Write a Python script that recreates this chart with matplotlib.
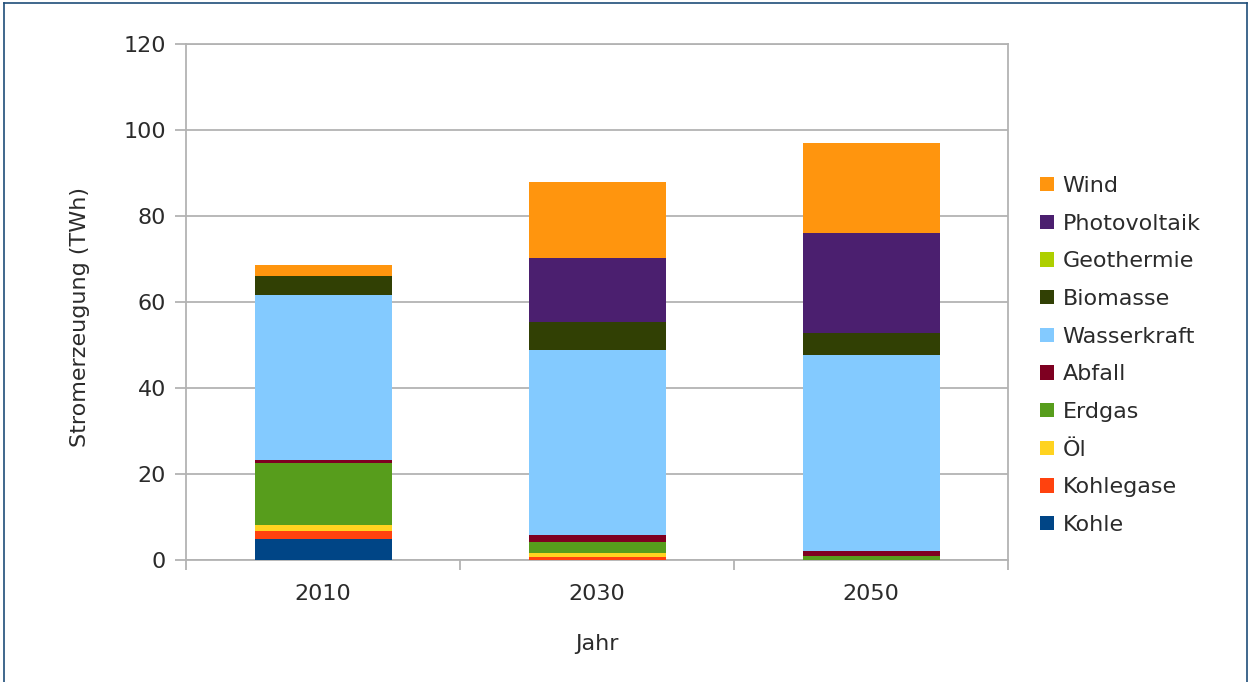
import matplotlib
matplotlib.use("Agg")
import matplotlib.pyplot as plt
from matplotlib.lines import Line2D
import numpy as np

plt.rcParams['font.family'] = ['DejaVu Sans']

years = ["2010", "2030", "2050"]
kohle = [5.0, 0.0, 0.0]
kohlegase = [1.8, 0.7, 0.0]
oel = [1.3, 0.9, 0.0]
erdgas = [14.5, 2.7, 1.0]
abfall = [0.6, 1.4, 1.2]
wasserkraft = [38.4, 43.1, 45.5]
biomasse = [4.5, 6.6, 5.1]
geothermie = [0.0, 0.0, 0.0]
photovoltaik = [0.0, 14.8, 23.2]
wind = [2.5, 17.6, 21.0]

series = [
    ("Kohle", kohle, "#004586"),
    ("Kohlegase", kohlegase, "#ff420e"),
    ("Öl", oel, "#ffd320"),
    ("Erdgas", erdgas, "#579d1c"),
    ("Abfall", abfall, "#7e0021"),
    ("Wasserkraft", wasserkraft, "#83caff"),
    ("Biomasse", biomasse, "#314004"),
    ("Geothermie", geothermie, "#aecf00"),
    ("Photovoltaik", photovoltaik, "#4b1f6f"),
    ("Wind", wind, "#ff950e"),
]

W, H = 1250, 682
fig = plt.figure(figsize=(W / 100, H / 100), dpi=100)
ax = fig.add_axes([186 / W, (H - 560) / H, (1008 - 186) / W, (560 - 44) / H])

gray = "#b3b3b3"
txt = "#2b2b2b"
fs = 16
x = np.arange(len(years))
bottom = np.zeros(len(years))
handles = []
for name, vals, col in series:
    v = np.array(vals)
    b = ax.bar(x, v, width=0.5, bottom=bottom, color=col, edgecolor="none", label=name, zorder=3)
    bottom += v
    handles.append(b)

ax.set_xlim(-0.5, 2.5)
ax.set_ylim(0, 120)
ax.set_yticks(np.arange(0, 121, 20))
ax.yaxis.grid(True, color=gray, linewidth=1.3, zorder=0)
ax.set_axisbelow(True)
for s in ax.spines.values():
    s.set_color(gray)
    s.set_linewidth(1.3)

ax.set_xticks(x)
ax.set_xticklabels(years)
ax.set_xticks([-0.5, 0.5, 1.5, 2.5], minor=True)
ax.tick_params(axis="x", which="major", length=0, pad=17, labelsize=fs, labelcolor=txt)
ax.tick_params(axis="x", which="minor", length=7.5, width=1.3, color=gray, direction="out")
ax.tick_params(axis="y", length=8, width=1.3, color=gray, pad=6.5, labelsize=fs, labelcolor=txt)

ax.set_xlabel("Jahr", fontsize=fs, color=txt, labelpad=22)
ax.set_ylabel("Stromerzeugung (TWh)", fontsize=fs, color=txt)
ax.yaxis.set_label_coords((90 - 186) / 822, (560 - 317) / 516)

leg = fig.legend(handles[::-1], [s[0] for s in series][::-1],
                 loc="upper left", bbox_to_anchor=(1040 / W, 1 - 176 / H),
                 frameon=False, fontsize=fs, handlelength=0.62, handleheight=0.62,
                 handletextpad=0.4, labelspacing=0.795, borderaxespad=0, borderpad=0)
for t in leg.get_texts():
    t.set_color(txt)

# outer border of the picture
bc = "#1f4e79"
fig.add_artist(Line2D([4 / W, 4 / W], [0, 1 - 3 / H], color=bc, lw=1.2, transform=fig.transFigure))
fig.add_artist(Line2D([4 / W, 1247 / W], [1 - 3 / H, 1 - 3 / H], color=bc, lw=1.2, transform=fig.transFigure))
fig.add_artist(Line2D([1247 / W, 1247 / W], [0, 1 - 3 / H], color=bc, lw=1.2, transform=fig.transFigure))

fig.savefig("out.png", dpi=100)
